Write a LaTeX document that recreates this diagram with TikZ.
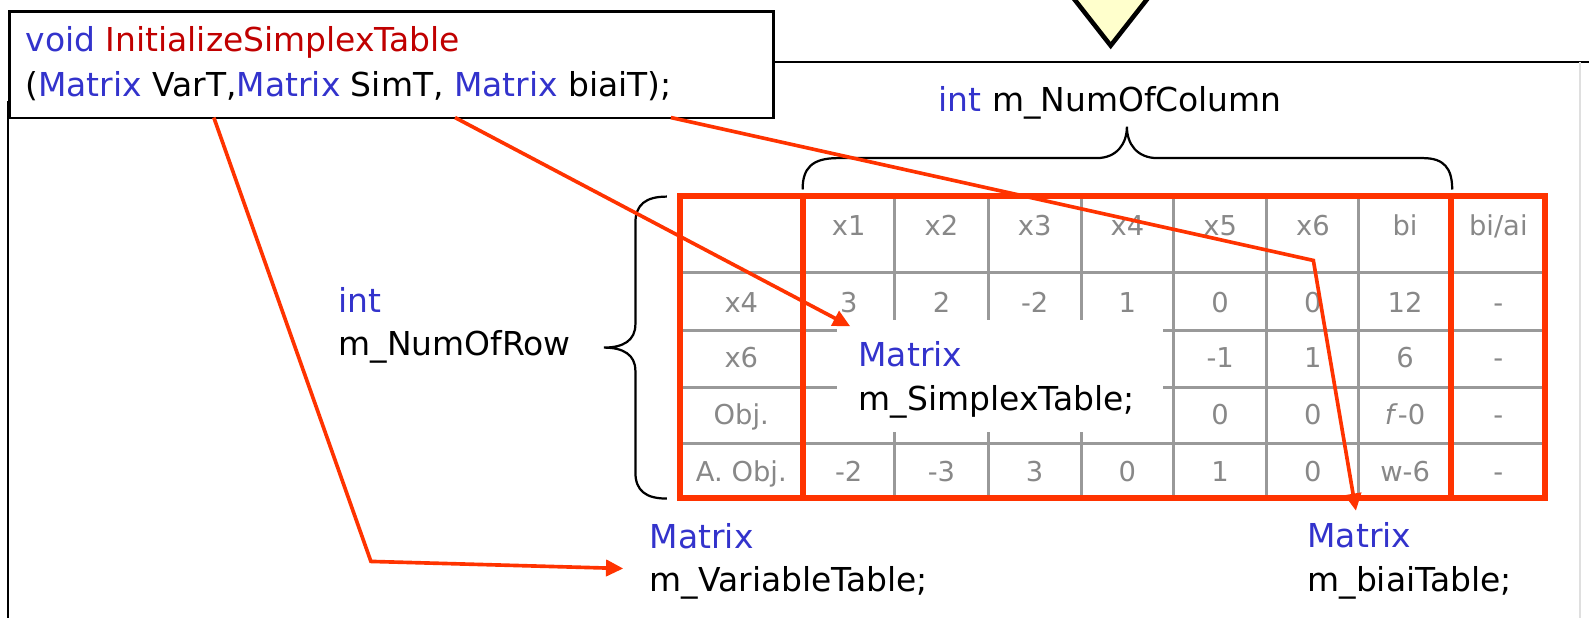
\documentclass[tikz,border=0pt]{standalone}
\usepackage{fontspec}
\setmainfont{DejaVu Sans}
\usetikzlibrary{arrows.meta}
\definecolor{kwblue}{HTML}{3333CC}
\definecolor{fnred}{HTML}{C00000}
\definecolor{arrred}{HTML}{FF3300}
\definecolor{cellgray}{HTML}{888888}
\definecolor{gridgray}{HTML}{999999}
\definecolor{triyellow}{HTML}{FFFFCC}
\begin{document}
\begin{tikzpicture}[x=1pt,y=-1pt,
  lbl/.style={anchor=base west,inner sep=0pt,font=\fontsize{32.5}{39}\selectfont},
  cell/.style={anchor=base,inner sep=0pt,text=cellgray,font=\fontsize{27}{32}\selectfont},
  conn/.style={draw=arrred,line width=3.6pt,-{Triangle[length=17pt,width=16pt]}},
  boxline/.style={draw=black,line width=2.5pt},
  bracestyle/.style={draw=black,line width=2.2pt},
  grid/.style={draw=gridgray,line width=3pt},
  redborder/.style={draw=arrred,line width=6pt}]
\useasboundingbox (0,0) rectangle (1568,609);
\clip (0,0) rectangle (1568,609);
\fill[white] (0,0) rectangle (1568,609);
% outer box
\draw[boxline] (762,61) -- (1575,61);
\draw[boxline] (8,100) -- (8,620);
\draw[draw=gray!25,line width=1.5pt] (1559,61) -- (1559,620);
% code box
\node[boxline,fill=white,minimum width=754pt,minimum height=105pt,anchor=north west,inner sep=0pt] (codebox) at (8,10) {};
\node[lbl] (codeA) at (25,51) {\textcolor{kwblue}{void} \textcolor{fnred}{InitializeSimplexTable}};
\node[lbl] (codeB) at (25,95) {(\textcolor{kwblue}{Matrix} VarT,\textcolor{kwblue}{Matrix} SimT, \textcolor{kwblue}{Matrix} biaiT);};
% triangle
\draw[line width=4.5pt,fill=triyellow,line join=miter] (1045,-20) -- (1147,-20) -- (1096,45) -- cycle;
% column label
\node[lbl] (collbl) at (926,110) {\textcolor{kwblue}{int} m\_NumOfColumn};
% row label
\node[lbl] (rowlblA) at (334,308) {\textcolor{kwblue}{int}};
\node[lbl] (rowlblB) at (334,351) {m\_NumOfRow};
% braces
\draw[bracestyle] (792,187) .. controls (792,166) and (801,156) .. (827,156) -- (1082,156)
   .. controls (1102,156) and (1112,142) .. (1112,125)
   .. controls (1112,142) and (1122,156) .. (1142,156) -- (1404,156)
   .. controls (1425,156) and (1433,166) .. (1433,187);
\draw[bracestyle] (658,194) .. controls (637,194) and (627,202) .. (627,220) -- (627,320)
   .. controls (627,336) and (615,343) .. (596,343)
   .. controls (615,343) and (627,350) .. (627,366) -- (627,466)
   .. controls (627,484) and (637,492) .. (658,492);
% table grid
\foreach \yy in {269,326,382,438} \draw[grid] (671,\yy) -- (1525,\yy);
\foreach \xx in {883,975,1067,1158,1250,1341} \draw[grid] (\xx,193) -- (\xx,491);
% header row
\foreach \t [count=\i] in {x1,x2,x3,x4,x5,x6,bi,bi/ai} {
  \pgfmathsetmacro{\cx}{{837.5,929,1021,1112.5,1204,1295.5,1386.5,1478.5}[\i-1]}
  \node[cell] (h\i) at (\cx,232) {\t};
}
% row headers
\node[cell] (r1) at (731.5,308) {x4};
\node[cell] (r2) at (731.5,363) {x6};
\node[cell] (r3) at (731.5,419) {Obj.};
\node[cell] (r4) at (731.5,475) {A. Obj.};
% row x4
\foreach \t [count=\i] in {3,2,-2,1,0,0,12,-} {
  \pgfmathsetmacro{\cx}{{837.5,929,1021,1112.5,1204,1295.5,1386.5,1478.5}[\i-1]}
  \node[cell] (a\i) at (\cx,308) {\t};
}
% row A. Obj.
\foreach \t [count=\i] in {-2,-3,3,0,1,0,w-6,-} {
  \pgfmathsetmacro{\cx}{{837.5,929,1021,1112.5,1204,1295.5,1386.5,1478.5}[\i-1]}
  \node[cell] (d\i) at (\cx,475) {\t};
}
% row x6
\node[cell] (b5) at (1204,363) {-1};
\node[cell] (b6) at (1295.5,363) {1};
\node[cell] (b7) at (1386.5,363) {6};
\node[cell] (b8) at (1478.5,363) {-};
% row Obj.
\node[cell] (c5) at (1204,419) {0};
\node[cell] (c6) at (1295.5,419) {0};
\node[cell] (c7) at (1386.5,419) {\textit{f}-0};
\node[cell] (c8) at (1478.5,419) {-};
% red borders
\draw[redborder] (671,193) rectangle (1525,491);
\draw[redborder] (792,193) -- (792,491);
\draw[redborder] (1432,193) -- (1432,491);
% white box with simplex table label
\fill[white] (826,316) rectangle (1148,426);
\node[lbl] (simA) at (847,362) {\textcolor{kwblue}{Matrix}};
\node[lbl] (simB) at (847,405) {m\_SimplexTable;};
% bottom labels
\node[lbl] (varA) at (641,541) {\textcolor{kwblue}{Matrix}};
\node[lbl] (varB) at (641,584) {m\_VariableTable;};
\node[lbl] (biaiA) at (1290,540) {\textcolor{kwblue}{Matrix}};
\node[lbl] (biaiB) at (1290,584) {m\_biaiTable;};
% arrows
\coordinate (varT) at (211,116);
\coordinate (bendA) at (366,554);
\coordinate (varTip) at (615,561);
\coordinate (simT) at (449,116);
\coordinate (simTip) at (839,322);
\coordinate (biaiT) at (662,116);
\coordinate (bendC) at (1296,257);
\coordinate (biaiTip) at (1338,504);
\draw[conn,line join=miter] (varT) -- (bendA) -- (varTip);
\draw[conn] (simT) -- (simTip);
\draw[conn,line join=miter] (biaiT) -- (bendC) -- (biaiTip);
\end{tikzpicture}
\end{document}
